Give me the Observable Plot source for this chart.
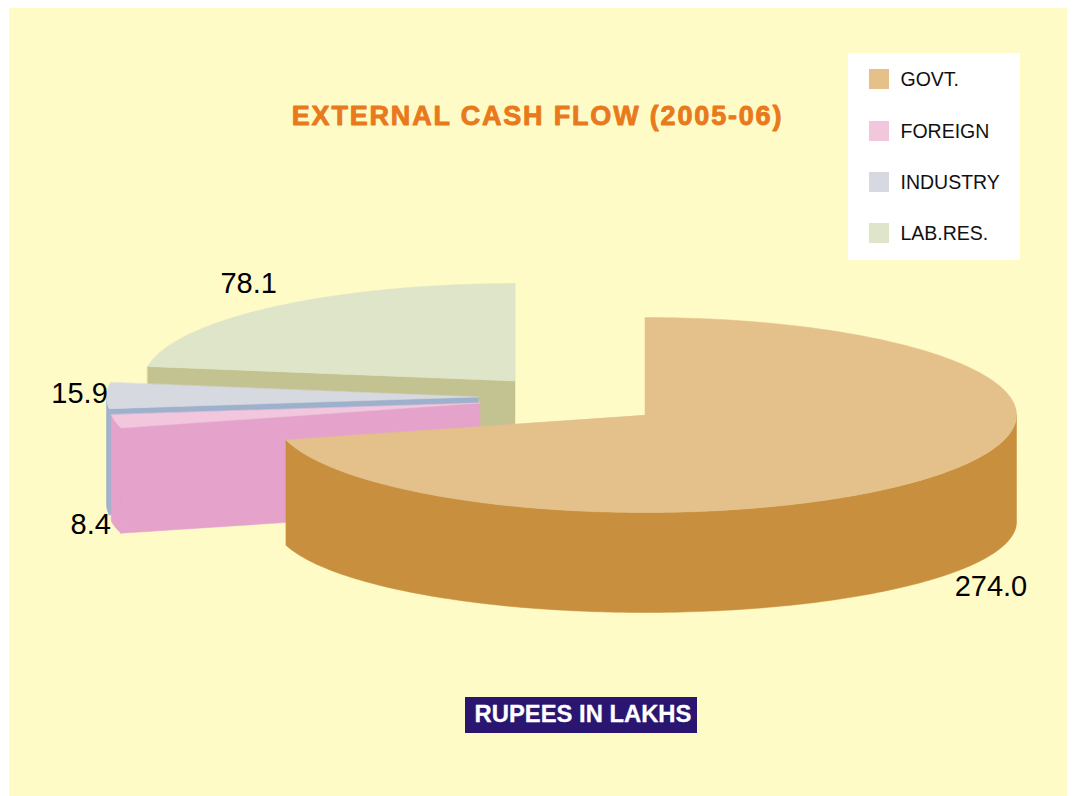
<!DOCTYPE html>
<html><head><meta charset="utf-8">
<script src="https://cdn.jsdelivr.net/npm/d3@7"></script>
<script src="https://cdn.jsdelivr.net/npm/@observablehq/plot@0.6"></script>
<style>
html,body{margin:0;padding:0;background:#fff;}
#panel{position:absolute;left:9px;top:8px;width:1058px;height:788px;background:#fffbc6;}
#chart{position:absolute;left:0;top:0;width:1074px;height:796px;}
#chart svg{background:transparent!important;display:block;}
</style></head><body>
<div id="panel"></div><div id="chart"></div>
<script>
const categories = ["GOVT.", "FOREIGN", "INDUSTRY", "LAB.RES."];
const values = [274.0, 8.4, 15.9, 78.1];
const valueLabels = ["274.0", "8.4", "15.9", "78.1"];
const topColors = ["#e4c08a", "#f2c6dc", "#d6d9df", "#dfe5c9"];
const sideColors = ["#c78f3e", "#e5a3cc", "#9db1cc", "#c3c391"];

// pie layout
const rx = 371.5, ry = 97.5, lowerDrop = 107, lowerRy = 90.5;
const centers = [[644.5,414.5],[479.5,402.5],[477.5,396.5],[514.5,380.5]];
const labelOffsets = [[51.5,112],[-24.5,103.5],[-27,-2],[-24,-23]];
const drawOrder = [3,2,1,0];

const total = d3.sum(values);
const cum = d3.cumsum(values);
const warp = t => t + 0.122 * Math.sin(t);            // perspective skew of the tilted pie
const angle = v => warp(v / total * 2 * Math.PI);
const spans = values.map((v,i) => [angle(cum[i]-v), angle(cum[i])]);

function rim(i, a, low = false){
  const [cx,cy] = centers[i];
  return low
    ? {x: cx + rx*Math.sin(a), y: cy + lowerDrop - lowerRy*Math.cos(a)}
    : {x: cx + rx*Math.sin(a), y: cy - ry*Math.cos(a)};
}
function arc(i, a0, a1, low = false){
  const n = Math.max(2, Math.ceil(Math.abs(a1-a0)/0.02));
  return d3.range(n+1).map(k => rim(i, a0 + (a1-a0)*k/n, low));
}
const rows = [];
const faceNames = [], faceColors = [];
function addFace(name, color, pts){
  faceNames.push(name); faceColors.push(color);
  pts.forEach(p => rows.push({face:name, x:p.x, y:p.y}));
}
for (const i of drawOrder){
  const [a0,a1] = spans[i];
  const [cx,cy] = centers[i];
  const apex = {x:cx,y:cy}, apexLow = {x:cx,y:cy+lowerDrop};
  // outer wall: the front half of the rim
  const w0 = Math.max(a0, Math.PI/2), w1 = Math.min(a1, 3*Math.PI/2);
  if (w1 > w0) addFace("wall"+i, sideColors[i], [...arc(i,w0,w1), ...arc(i,w1,w0,true)]);
  // cut face seen from the front
  if (a0 > Math.PI/2 && i > 0){
    addFace("cut"+i, sideColors[i], [rim(i,a0), apex, apexLow, rim(i,a0,true)]);
  }
  addFace("top"+i, topColors[i], [apex, ...arc(i,a0,a1)]);
}
const labelRows = values.map((v,i) => {
  const p = rim(i,(spans[i][0]+spans[i][1])/2);
  return {label:valueLabels[i], x:p.x+labelOffsets[i][0], y:p.y+labelOffsets[i][1]};
});
const legendRows = categories.map((c,i) => ({c, i, color:topColors[i]}));
const legendY = [79,131,182,233];

const plot = Plot.plot({
  width:1074, height:796, margin:0,
  style:{background:"transparent", fontFamily:"'Liberation Sans',Arial,sans-serif", overflow:"visible"},
  x:{domain:[0,1074], range:[0,1074], axis:null},
  y:{domain:[796,0], range:[796,0], axis:null, reverse:false},
  color:{type:"ordinal", domain:faceNames, range:faceColors},
  marks:[
    Plot.line(rows,{x:"x",y:"y",z:"face",fill:"face",stroke:"face",strokeWidth:0.5,curve:"linear-closed"}),
    Plot.text(labelRows,{x:"x",y:"y",text:"label",fontSize:29,fill:"#000"}),
    Plot.text(["EXTERNAL CASH FLOW (2005-06)"],{x:()=>537,y:()=>116,fontSize:27,fontWeight:"bold",fill:"#e8791c",stroke:"#e8791c",strokeWidth:0.9}),
    Plot.rect([0],{x1:()=>465,x2:()=>697,y1:()=>697,y2:()=>733,fill:"#2a1670"}),
    Plot.text(["RUPEES IN LAKHS"],{x:()=>582.5,y:()=>714,fontSize:23.8,fontWeight:"bold",fill:"#fff",stroke:"#fff",strokeWidth:0.3}),
    Plot.rect([0],{x1:()=>848,x2:()=>1020,y1:()=>53,y2:()=>260,fill:"#fff"}),
    Plot.rect(legendRows,{x1:()=>869,x2:()=>889,y1:d=>legendY[d.i]-10,y2:d=>legendY[d.i]+10,fill:d=>d.color}),
    Plot.text(legendRows,{x:()=>900,y:d=>legendY[d.i],text:"c",textAnchor:"start",fontSize:19.5,fill:"#111"})
  ]
});
plot.querySelectorAll("text").forEach(t => {
  if (t.textContent.startsWith("EXTERNAL")) t.style.letterSpacing = "1.82px";
});
document.getElementById("chart").append(plot);
</script></body></html>
